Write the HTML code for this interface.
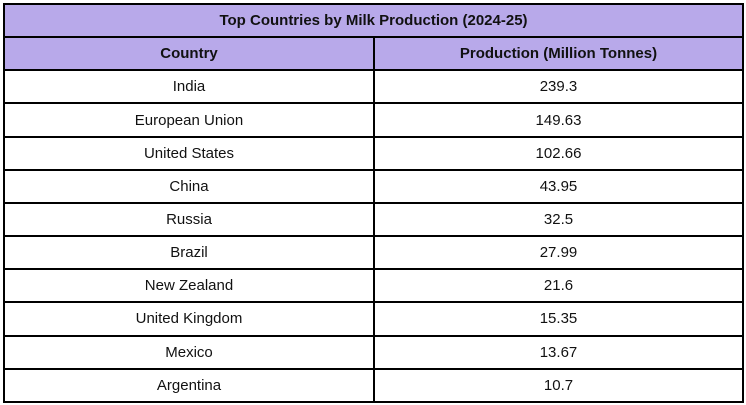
<!DOCTYPE html>
<html><head><meta charset="utf-8"><style>
body{margin:0;width:746px;height:405px;background:#fff;font-family:"Liberation Sans",sans-serif;overflow:hidden}
table{position:absolute;left:3px;top:3px;width:741px;height:400px;border-collapse:collapse;table-layout:fixed}
td,th{border:2px solid #000;text-align:center;font-size:15px;color:#111;padding:0;height:31px}
th{background:#b8a9ea;font-weight:bold}
</style></head><body>
<table>
<colgroup><col style="width:370px"><col></colgroup>
<tr><th colspan="2">Top Countries by Milk Production (2024-25)</th></tr>
<tr><th>Country</th><th>Production (Million Tonnes)</th></tr>
<tr><td>India</td><td>239.3</td></tr>
<tr><td>European Union</td><td>149.63</td></tr>
<tr><td>United States</td><td>102.66</td></tr>
<tr><td>China</td><td>43.95</td></tr>
<tr><td>Russia</td><td>32.5</td></tr>
<tr><td>Brazil</td><td>27.99</td></tr>
<tr><td>New Zealand</td><td>21.6</td></tr>
<tr><td>United Kingdom</td><td>15.35</td></tr>
<tr><td>Mexico</td><td>13.67</td></tr>
<tr><td>Argentina</td><td>10.7</td></tr>
</table>
</body></html>
